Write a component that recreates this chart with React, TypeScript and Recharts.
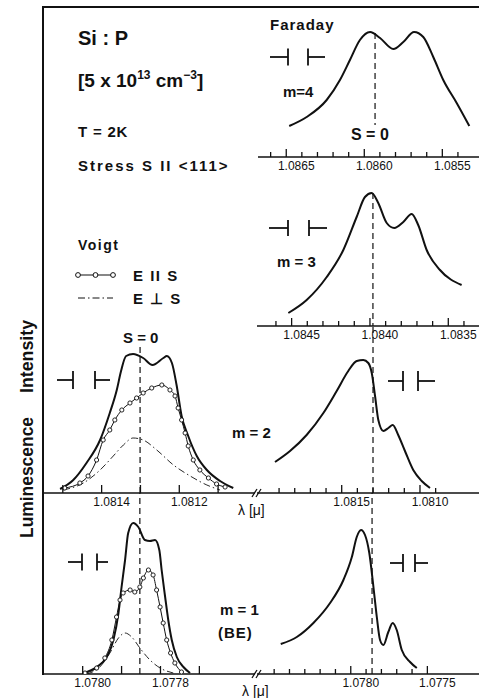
import React from 'react';
import { LineChart, Line, XAxis, YAxis, ReferenceLine } from 'recharts';

const FONT = '"Liberation Sans", Arial, Helvetica, sans-serif';
const INK = '#111';

type Pt = [number, number];

// wavelength [micron], intensity (arb. units) — Faraday m = 4
const m4Curve: Pt[] = [
  [1.086481, 31], [1.086369, 40], [1.086241, 57], [1.086156, 77], [1.086092, 97], [1.086028, 117],
  [1.085963, 125], [1.085899, 119], [1.085814, 108], [1.08575, 115], [1.085681, 125], [1.085622, 120],
  [1.085558, 100], [1.085494, 77], [1.085408, 54], [1.085327, 31],
];
const m4Ticks = [1.0866, 1.0865, 1.0864, 1.0863, 1.0862, 1.0861, 1.086, 1.0859, 1.0858, 1.0857, 1.0856, 1.0855, 1.0854];
const m4Labels = [1.0865, 1.086, 1.0855];
const m4Range = [1.085265, 1.086681];
const m4Zero = 1.085931;

// Faraday m = 3
const m3Curve: Pt[] = [
  [1.084521, 13], [1.084404, 26], [1.084276, 49], [1.08417, 76], [1.084085, 109], [1.084032, 129],
  [1.083989, 133], [1.083947, 123], [1.083893, 103], [1.083845, 98], [1.083787, 104], [1.083734, 112],
  [1.083692, 101], [1.083638, 76], [1.083553, 56], [1.083415, 41],
];
const m3Ticks = [1.0846, 1.0845, 1.0844, 1.0843, 1.0842, 1.0841, 1.084, 1.0839, 1.0838, 1.0837, 1.0836, 1.0835, 1.0834];
const m3Labels = [1.0845, 1.084, 1.0835];
const m3Range = [1.083304, 1.084721];
const m3Zero = 1.083981;

// Faraday m = 2
const m2Curve: Pt[] = [
  [1.081926, 31], [1.08183, 42], [1.081724, 58], [1.081617, 80], [1.081532, 102], [1.081458, 122],
  [1.081404, 132], [1.081362, 133], [1.08133, 130], [1.081308, 120], [1.081287, 97], [1.081266, 73],
  [1.081234, 62], [1.081202, 65], [1.081174, 68], [1.081139, 58], [1.081096, 42], [1.081043, 23],
  [1.080989, 12], [1.080936, 5],
];
const m2Ticks = [1.0819, 1.0818, 1.0817, 1.0816, 1.0815, 1.0814, 1.0813, 1.0812, 1.0811, 1.081, 1.0809];
const m2Labels = [1.0815, 1.081];
const m2Range = [1.080623, 1.082041];
const m2Zero = 1.0813;

// Faraday m = 1 (BE)
const m1Curve: Pt[] = [
  [1.078457, 30], [1.078352, 37], [1.078244, 51], [1.078135, 71], [1.078048, 94], [1.077993, 117],
  [1.077961, 137], [1.077933, 144], [1.077907, 139], [1.077879, 121], [1.077852, 87], [1.07783, 57],
  [1.077809, 34], [1.077787, 29], [1.077755, 42], [1.077726, 51], [1.0777, 44], [1.077667, 24],
  [1.077613, 12], [1.077569, 6],
];
const m1Ticks = [1.0785, 1.0784, 1.0783, 1.0782, 1.0781, 1.078, 1.0779, 1.0778, 1.0777, 1.0776, 1.0775];
const m1Labels = [1.078, 1.0775];
const m1Range = [1.077163, 1.078612];
const m1Zero = 1.077861;

// Voigt m = 2 : total, E || S, E ⊥ S
const v2Total: Pt[] = [
  [1.081507, 4], [1.081473, 13], [1.081439, 30], [1.081404, 53], [1.081379, 80], [1.081361, 103],
  [1.08135, 122], [1.081337, 137], [1.081319, 139], [1.081293, 135], [1.081269, 128], [1.081241, 135],
  [1.081232, 137], [1.081219, 130], [1.081207, 108], [1.081194, 77], [1.081177, 57], [1.081155, 37],
  [1.081129, 23], [1.081095, 12], [1.081061, 5],
];
const v2Par: Pt[] = [
  [1.081495, 5], [1.081456, 10], [1.081435, 17], [1.081413, 33], [1.081396, 53], [1.081379, 63],
  [1.081366, 73], [1.081348, 83], [1.081327, 90], [1.08131, 95], [1.081293, 100], [1.081271, 105],
  [1.081245, 108], [1.081224, 103], [1.081211, 97], [1.081203, 85], [1.081194, 73], [1.081185, 60],
  [1.081177, 47], [1.081164, 33], [1.081147, 23], [1.081125, 15], [1.081104, 9], [1.081082, 6],
];
const v2Perp: Pt[] = [
  [1.081499, 3], [1.081447, 10], [1.081404, 23], [1.08137, 37], [1.081344, 48], [1.081319, 55],
  [1.081293, 53], [1.081258, 43], [1.081215, 28], [1.081172, 17], [1.081129, 8], [1.081095, 3],
];
const v2Ticks = [1.0815, 1.0814, 1.0813, 1.0812, 1.0811];
const v2Labels = [1.0814, 1.0812];
const v2Range = [1.081005, 1.081551];
const v2Zero = 1.081301;

// Voigt m = 1
const v1Total: Pt[] = [
  [1.077998, 1], [1.077964, 7], [1.077938, 17], [1.077921, 34], [1.077908, 61], [1.0779, 87],
  [1.077891, 114], [1.077883, 141], [1.07787, 151], [1.077857, 147], [1.07784, 134], [1.077827, 133],
  [1.077814, 134], [1.077803, 124], [1.077797, 104], [1.077788, 77], [1.07778, 54], [1.077771, 34],
  [1.077758, 17], [1.077741, 7], [1.077724, 1],
];
const v1Par: Pt[] = [
  [1.077994, 1], [1.077964, 6], [1.077943, 16], [1.077925, 34], [1.077913, 57], [1.077904, 74],
  [1.077896, 81], [1.077878, 84], [1.077866, 82], [1.077853, 87], [1.077844, 96], [1.077831, 104],
  [1.077819, 99], [1.07781, 84], [1.077801, 67], [1.077793, 51], [1.077784, 34], [1.077774, 21],
  [1.077763, 11], [1.077746, 2],
];
const v1Perp: Pt[] = [
  [1.07799, 0], [1.077956, 7], [1.07793, 21], [1.077908, 36], [1.077891, 41], [1.077874, 37],
  [1.077853, 26], [1.077827, 14], [1.077801, 6], [1.077767, 1],
];
const v1Ticks = [1.078, 1.0779, 1.0778, 1.0777];
const v1Labels = [1.078, 1.0778];
const v1Range = [1.077557, 1.078102];
const v1Zero = 1.077853;

const rows = (pts: Pt[]) => pts.map(([w, v]) => ({ w, v }));
const near = (list: number[], v: number) => list.some((m) => Math.abs(m - v) < 1e-7);

const AXIS_H = 22;

function makeTick(labels: number[], longTicks: number[]) {
  return (props: any) => {
    const { x, y, payload } = props;
    const v = payload.value as number;
    const len = near(longTicks, v) ? 8 : 5;
    return (
      <g>
        <line x1={x} x2={x} y1={y} y2={y - len} stroke={INK} strokeWidth={1.3} />
        {near(labels, v) && (
          <text x={x + 10} y={y + 13} textAnchor="middle" fontSize={12} fontFamily={FONT} fill={INK}>
            {v.toFixed(4)}
          </text>
        )}
      </g>
    );
  };
}

interface PanelProps {
  left: number;
  top: number;
  width: number;
  plotH: number;
  range: number[];
  ticks: number[];
  labels: number[];
  longTicks: number[];
  total: Pt[];
  par?: Pt[];
  perp?: Pt[];
  zero: number;
  zeroSpan?: [number, number];
}

function Panel({ left, top, width, plotH, range, ticks, labels, longTicks, total, par, perp, zero, zeroSpan }: PanelProps) {
  const height = plotH + AXIS_H;
  return (
    <div style={{ position: 'absolute', left, top, width, height }}>
      <LineChart width={width} height={height} margin={{ top: 0, right: 0, bottom: 0, left: 0 }}>
        <XAxis
          type="number"
          dataKey="w"
          domain={range}
          reversed
          allowDataOverflow
          ticks={ticks}
          interval={0}
          height={AXIS_H}
          tickSize={0}
          tickMargin={0}
          tickLine={false}
          axisLine={{ stroke: INK, strokeWidth: 1.6 }}
          tick={makeTick(labels, longTicks)}
        />
        <YAxis hide type="number" domain={[0, plotH]} allowDataOverflow />
        {zeroSpan ? (
          <ReferenceLine
            segment={[{ x: zero, y: zeroSpan[0] }, { x: zero, y: zeroSpan[1] }]}
            stroke={INK}
            strokeWidth={1.2}
            strokeDasharray="6 4"
          />
        ) : (
          <ReferenceLine x={zero} stroke={INK} strokeWidth={1.2} strokeDasharray="6 4" />
        )}
        {perp && (
          <Line
            data={rows(perp)}
            dataKey="v"
            type="monotone"
            stroke={INK}
            strokeWidth={0.9}
            strokeDasharray="7 3 1.5 3"
            dot={false}
            activeDot={false}
            isAnimationActive={false}
          />
        )}
        {par && (
          <Line
            data={rows(par)}
            dataKey="v"
            type="monotone"
            stroke={INK}
            strokeWidth={1}
            dot={{ r: 2.1, fill: '#fff', stroke: INK, strokeWidth: 0.9 }}
            activeDot={false}
            isAnimationActive={false}
          />
        )}
        <Line
          data={rows(total)}
          dataKey="v"
          type="monotone"
          stroke={INK}
          strokeWidth={2}
          dot={false}
          activeDot={false}
          isAnimationActive={false}
        />
      </LineChart>
    </div>
  );
}

function Polar({ x1, b1, b2, x2, y, h }: { x1: number; b1: number; b2: number; x2: number; y: number; h: number }) {
  return (
    <g stroke={INK} strokeWidth={1.8}>
      <line x1={x1} x2={b1} y1={y} y2={y} />
      <line x1={b1} x2={b1} y1={y - h / 2} y2={y + h / 2} />
      <line x1={b2} x2={b2} y1={y - h / 2} y2={y + h / 2} />
      <line x1={b2} x2={x2} y1={y} y2={y} />
    </g>
  );
}

function Break({ x, y }: { x: number; y: number }) {
  return (
    <g stroke={INK} strokeWidth={1.3}>
      <line x1={x - 4} y1={y + 4} x2={x + 1} y2={y - 4} />
      <line x1={x} y1={y + 4} x2={x + 5} y2={y - 4} />
    </g>
  );
}

const lab = { fontFamily: FONT, fill: INK, fontWeight: 'bold' as const };

export default function App() {
  return (
    <div style={{ position: 'absolute', left: 0, top: 0, width: 479, height: 698, background: '#fff', overflow: 'hidden' }}>
      <Panel left={258} top={10} width={221} plotH={147} range={m4Range} ticks={m4Ticks} labels={m4Labels}
        longTicks={m4Labels} total={m4Curve} zero={m4Zero} zeroSpan={[124, 32]} />
      <Panel left={257} top={170} width={222} plotH={156} range={m3Range} ticks={m3Ticks} labels={m3Labels}
        longTicks={m3Labels} total={m3Curve} zero={m3Zero} zeroSpan={[133, 0]} />
      <Panel left={257} top={326} width={222} plotH={167} range={m2Range} ticks={m2Ticks} labels={m2Labels}
        longTicks={m2Labels} total={m2Curve} zero={m2Zero} />
      <Panel left={257} top={493} width={222} plotH={181} range={m1Range} ticks={m1Ticks} labels={m1Labels}
        longTicks={m1Labels} total={m1Curve} zero={m1Zero} />
      <Panel left={43} top={330} width={212} plotH={163} range={v2Range} ticks={v2Ticks} labels={v2Labels}
        longTicks={v2Ticks} total={v2Total} par={v2Par} perp={v2Perp} zero={v2Zero} zeroSpan={[146, 0]} />
      <Panel left={43} top={493} width={212} plotH={181} range={v1Range} ticks={v1Ticks} labels={v1Labels}
        longTicks={v1Ticks} total={v1Total} par={v1Par} perp={v1Perp} zero={v1Zero} />

      <svg width={479} height={698} style={{ position: 'absolute', left: 0, top: 0, pointerEvents: 'none' }}>
        {/* frame */}
        <line x1={43} x2={43} y1={6} y2={675} stroke={INK} strokeWidth={2} />
        <line x1={42} x2={479} y1={7} y2={7} stroke={INK} strokeWidth={2} />

        <text x={33} y={538} transform="rotate(-90 33 538)" fontSize={19} textLength={121} lengthAdjust="spacingAndGlyphs" {...lab}>
          Luminescence
        </text>
        <text x={33} y={393} transform="rotate(-90 33 393)" fontSize={19} textLength={73} lengthAdjust="spacingAndGlyphs" {...lab}>
          Intensity
        </text>

        <text x={78} y={45} fontSize={20} {...lab}>Si : P</text>
        <text x={78} y={87} fontSize={19} {...lab}>
          [5 x 10<tspan dy={-8} fontSize={12}>13</tspan>
          <tspan dy={8}> cm</tspan>
          <tspan dy={-8} fontSize={12}>−3</tspan>
          <tspan dy={8}>]</tspan>
        </text>
        <text x={78} y={137} fontSize={15} letterSpacing={0.8} {...lab}>T = 2K</text>
        <text x={78} y={171} fontSize={15} letterSpacing={2} {...lab}>Stress S II &lt;111&gt;</text>

        <text x={78} y={250} fontSize={14} letterSpacing={1.5} {...lab}>Voigt</text>
        <line x1={78} x2={113} y1={275} y2={275} stroke={INK} strokeWidth={1.2} />
        {[78, 95.5, 113].map((cx) => (
          <circle key={cx} cx={cx} cy={275} r={2.4} fill="#fff" stroke={INK} strokeWidth={1} />
        ))}
        <text x={133} y={281} fontSize={15} letterSpacing={1.5} {...lab}>E II S</text>
        <line x1={78} x2={113} y1={298} y2={298} stroke={INK} strokeWidth={1} strokeDasharray="7 3 1.5 3" />
        <text x={133} y={304} fontSize={15} letterSpacing={1.5} {...lab}>E ⊥ S</text>

        <text x={123} y={343} fontSize={15} {...lab}>S = 0</text>
        <text x={270} y={30} fontSize={15} letterSpacing={1} {...lab}>Faraday</text>
        <text x={283} y={97} fontSize={15} {...lab}>m=4</text>
        <text x={351} y={140} fontSize={16} {...lab}>S = 0</text>
        <text x={277} y={267} fontSize={15} {...lab}>m = 3</text>
        <text x={232} y={438} fontSize={15} {...lab}>m = 2</text>
        <text x={220} y={615} fontSize={15} {...lab}>m = 1</text>
        <text x={218} y={638} fontSize={15} letterSpacing={1} {...lab}>(BE)</text>

        <text x={238} y={515} fontSize={14} fontFamily={FONT} fill={INK}>λ [μ]</text>
        <text x={242} y={696} fontSize={14} fontFamily={FONT} fill={INK}>λ [μ]</text>

        <Break x={256} y={493} />
        <Break x={256} y={674} />

        <Polar x1={270} b1={288} b2={308} x2={325} y={57} h={17} />
        <Polar x1={269} b1={288} b2={309} x2={327} y={228} h={16} />
        <Polar x1={57} b1={73} b2={95} x2={110} y={380} h={18} />
        <Polar x1={388} b1={403} b2={418} x2={435} y={381} h={20} />
        <Polar x1={68} b1={82} b2={97} x2={108} y={562} h={17} />
        <Polar x1={390} b1={403} b2={415} x2={428} y={563} h={18} />
      </svg>
    </div>
  );
}
